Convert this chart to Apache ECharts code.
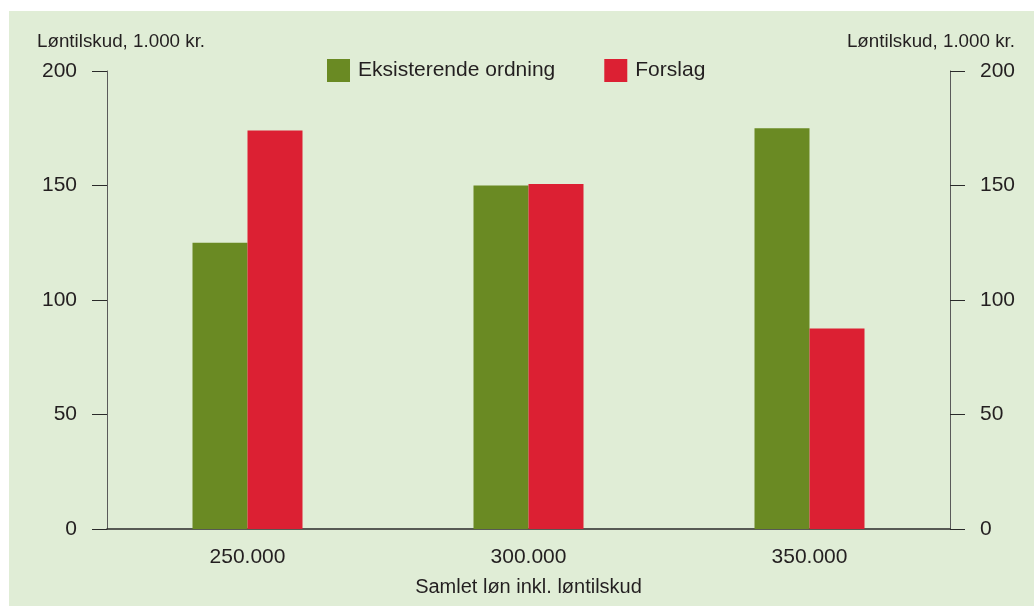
<!DOCTYPE html>
<html>
<head>
<meta charset="utf-8">
<script src="https://cdn.jsdelivr.net/npm/echarts@6/dist/echarts.min.js"></script>
<style>
  html, body { margin: 0; padding: 0; background: #ffffff; overflow: hidden; }
  #chart { width: 1034px; height: 607px; }
</style>
</head>
<body>
<div id="chart"></div>
<script>
// Wage levels (total wage incl. subsidy) and subsidy amounts in 1,000 kr.
const categories = ['250.000', '300.000', '350.000'];
const eksisterende = [125, 150, 175];
const forslag = [174, 150.7, 87.6];
const yTicks = { min: 0, max: 200, interval: 50 };

const seriesNames = ['Eksisterende ordning', 'Forslag'];
const unitLabel = 'Løntilskud, 1.000 kr.';
const xTitle = 'Samlet løn inkl. løntilskud';

const textColor = '#231f20';
const fontFamily = '"Liberation Sans", Arial, Helvetica, sans-serif';

const chart = echarts.init(document.getElementById('chart'), null, { renderer: 'canvas' });

function valueAxis(position) {
  return {
    type: 'value',
    position: position,
    min: yTicks.min,
    max: yTicks.max,
    interval: yTicks.interval,
    axisLine: { show: true, lineStyle: { color: '#5a5a5a', width: 1 } },
    axisTick: { show: true, inside: false, length: 15, lineStyle: { color: '#2a2a2a', width: 1 } },
    axisLabel: { margin: 30, color: textColor, fontSize: 21, fontFamily: fontFamily },
    splitLine: { show: false }
  };
}

chart.setOption({
  backgroundColor: '#ffffff',
  animation: false,
  textStyle: { fontFamily: fontFamily, color: textColor },
  graphic: [
    {
      type: 'rect', z: -10, silent: true,
      shape: { x: 9, y: 11, width: 1025, height: 595 },
      style: { fill: '#e0edd6' }
    },
    {
      type: 'text', left: 37, top: 32,
      style: { text: unitLabel, fill: textColor, font: '18.8px ' + fontFamily }
    },
    {
      type: 'text', right: 19, top: 32,
      style: { text: unitLabel, fill: textColor, font: '18.8px ' + fontFamily }
    }
  ],
  legend: {
    data: seriesNames,
    left: 327,
    top: 59,
    icon: 'rect',
    itemWidth: 23,
    itemHeight: 23,
    itemGap: 49,
    padding: 0,
    textStyle: { fontSize: 21, color: textColor, fontFamily: fontFamily, padding: [0, 0, 0, 3] }
  },
  grid: { left: 107, right: 84, top: 71, bottom: 78, containLabel: false },
  xAxis: {
    type: 'category',
    data: categories,
    name: xTitle,
    nameLocation: 'middle',
    nameGap: 48,
    nameTextStyle: { fontSize: 20, color: textColor, fontFamily: fontFamily },
    axisLine: { show: true, lineStyle: { color: '#2a2a2a', width: 1.5 } },
    axisTick: { show: false },
    axisLabel: { margin: 18, color: textColor, fontSize: 21, fontFamily: fontFamily }
  },
  yAxis: [valueAxis('left'), valueAxis('right')],
  series: [
    {
      name: seriesNames[0],
      type: 'bar',
      data: eksisterende,
      barWidth: 55,
      barGap: '0%',
      itemStyle: { color: '#6a8a23' }
    },
    {
      name: seriesNames[1],
      type: 'bar',
      data: forslag,
      barWidth: 55,
      barGap: '0%',
      itemStyle: { color: '#dc2033' }
    }
  ]
});
</script>
</body>
</html>
